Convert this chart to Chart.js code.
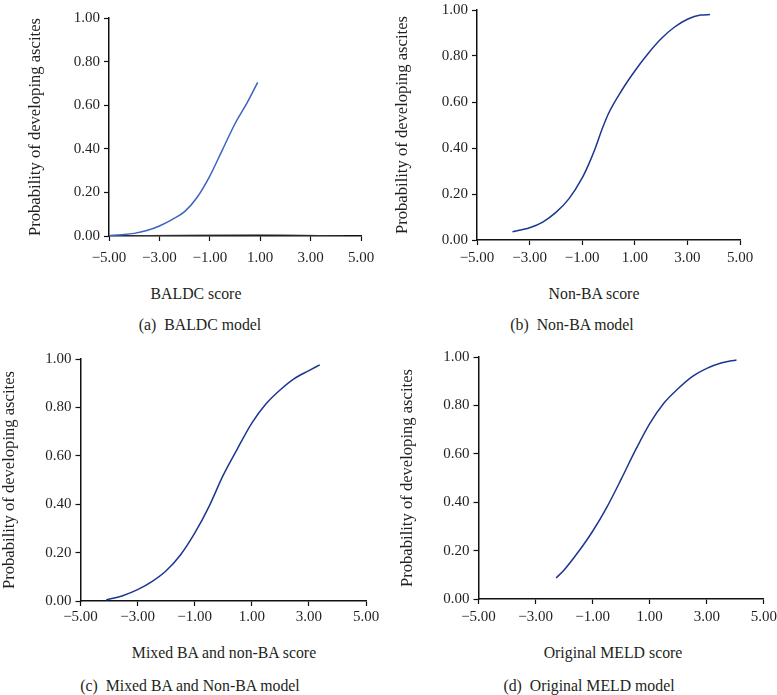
<!DOCTYPE html>
<html>
<head>
<meta charset="utf-8">
<script src="https://cdn.jsdelivr.net/npm/chart.js@4.4.1/dist/chart.umd.min.js"></script>
<style>
  html, body { margin: 0; padding: 0; background: #fff; }
  body { width: 777px; height: 695px; position: relative; overflow: hidden; font-family: "Liberation Serif", "DejaVu Serif", serif; color: #231f20; }
  .wrap { position: absolute; }
  .lbl { position: absolute; width: 400px; text-align: center; font-size: 15.8px; line-height: 18px; white-space: pre; }
</style>
</head>
<body>
<script>
// ---------- data ----------
const X_TICKS = [-5, -3, -1, 1, 3, 5];
const X_TICK_LABELS = ['\u22125.00', '\u22123.00', '\u22121.00', '1.00', '3.00', '5.00'];
const Y_TICKS = [0, 0.2, 0.4, 0.6, 0.8, 1.0];
const Y_TICK_LABELS = ['0.00', '0.20', '0.40', '0.60', '0.80', '1.00'];
const Y_TITLE = 'Probability of developing ascites';

const baldcX = [-5, -4.5, -4, -3.5, -3, -2.5, -2, -1.5, -1, -0.5, 0, 0.5, 0.9];
const baldcY = [0.002, 0.006, 0.012, 0.025, 0.046, 0.075, 0.112, 0.178, 0.275, 0.395, 0.515, 0.615, 0.705];
const baldcBaseX = [-5, -1.5, 1, 3, 4.35];
const baldcBaseY = [0.001, 0.004, 0.005, 0.003, 0.0];

const nonBaX = [-3.65, -3, -2.5, -2, -1.5, -1, -0.75, -0.5, -0.25, 0, 0.5, 1, 1.5, 2, 2.5, 3, 3.5, 3.86];
const nonBaY = [0.036, 0.053, 0.078, 0.12, 0.18, 0.27, 0.33, 0.40, 0.48, 0.55, 0.65, 0.735, 0.81, 0.875, 0.925, 0.96, 0.978, 0.98];

const mixedX = [-4.1, -3.5, -3, -2.5, -2, -1.5, -1, -0.5, 0, 0.5, 1, 1.5, 2, 2.5, 3, 3.38];
const mixedY = [0.004, 0.023, 0.047, 0.08, 0.125, 0.19, 0.28, 0.39, 0.52, 0.63, 0.735, 0.815, 0.873, 0.92, 0.952, 0.976];

const meldX = [-2.28, -2, -1.5, -1, -0.5, 0, 0.5, 1, 1.5, 2, 2.5, 3, 3.5, 4.04];
const meldY = [0.087, 0.12, 0.195, 0.28, 0.38, 0.495, 0.615, 0.725, 0.81, 0.87, 0.92, 0.953, 0.975, 0.988];

const xTitles = ['BALDC score', 'Non-BA score', 'Mixed BA and non-BA score', 'Original MELD score'];
const captions = ['(a)  BALDC model', '(b)  Non-BA model', '(c)  Mixed BA and Non-BA model', '(d)  Original MELD model'];

// ---------- layout (positions only) ----------
const panels = [
  { cl: 0,   ct: 0,   w: 388, h: 285, pl: 109,   pr: 361, pt: 18,  pb: 236, yTitleX: 36,  xDy: 22,
    xt: [196, 294], cap: [200, 325],
    series: [{ xs: baldcX, ys: baldcY, color: '#3c63c4', w: 1.5 }, { xs: baldcBaseX, ys: baldcBaseY, color: '#333333', w: 1 }] },
  { cl: 388, ct: 0,   w: 389, h: 285, pl: 477,   pr: 740, pt: 6,   pb: 240, yTitleX: 403, xDy: 18,
    xt: [594, 294], cap: [572, 325],
    series: [{ xs: nonBaX, ys: nonBaY, color: '#1c3692', w: 1.5 }] },
  { cl: 0,   ct: 330, w: 388, h: 310, pl: 80.5,  pr: 366, pt: 359, pb: 601, yTitleX: 9.5, xDy: 16,
    xt: [224, 653], cap: [190, 686],
    series: [{ xs: mixedX, ys: mixedY, color: '#1c3692', w: 1.5 }] },
  { cl: 388, ct: 330, w: 389, h: 310, pl: 478.5, pr: 764, pt: 357, pb: 599, yTitleX: 408, xDy: 18,
    xt: [613, 653], cap: [589, 686],
    series: [{ xs: meldX, ys: meldY, color: '#1c3692', w: 1.5 }] }
];

const FONT = '"Liberation Serif", "DejaVu Serif", serif';
const TXT = '#231f20';
const AX = '#111111';

panels.forEach((p, i) => {
  const wrap = document.createElement('div');
  wrap.className = 'wrap';
  wrap.style.left = p.cl + 'px';
  wrap.style.top = p.ct + 'px';
  const cv = document.createElement('canvas');
  cv.width = p.w; cv.height = p.h;
  cv.style.width = p.w + 'px'; cv.style.height = p.h + 'px';
  wrap.appendChild(cv);
  document.body.appendChild(wrap);

  const yW = p.pl - p.cl;
  const xH = p.h - (p.pb - p.ct);
  const titleSize = 16.6;
  const titleLH = titleSize * 1.2;
  const xTickSize = 15;
  const xLabelLH = 2 * (p.xDy - 5);

  new Chart(cv.getContext('2d'), {
    type: 'line',
    data: {
      datasets: p.series.map(s => ({
        data: s.xs.map((x, k) => ({ x: x, y: s.ys[k] })),
        borderColor: s.color,
        borderWidth: s.w,
        pointRadius: 0,
        fill: false,
        tension: 0.4,
        cubicInterpolationMode: 'monotone'
      }))
    },
    options: {
      responsive: false,
      animation: false,
      devicePixelRatio: 1,
      layout: { padding: { left: 0, top: p.pt - p.ct, right: p.cl + p.w - p.pr, bottom: 0 } },
      plugins: { legend: { display: false }, tooltip: { enabled: false }, title: { display: false } },
      scales: {
        x: {
          type: 'linear', position: 'bottom', min: -5, max: 5,
          afterBuildTicks: sc => { sc.ticks = X_TICKS.map(v => ({ value: v })); },
          afterFit: sc => { sc.height = xH; },
          ticks: {
            autoSkip: false, maxRotation: 0, padding: 0, color: TXT,
            font: { family: FONT, size: xTickSize, lineHeight: xLabelLH / xTickSize },
            callback: (v, idx) => X_TICK_LABELS[idx]
          },
          grid: { drawOnChartArea: false, drawTicks: true, tickLength: 5, color: AX, tickWidth: 1.2 },
          border: { display: true, color: AX, width: 1.5 },
          title: { display: false }
        },
        y: {
          type: 'linear', position: 'left', min: 0, max: 1,
          afterBuildTicks: sc => { sc.ticks = Y_TICKS.map(v => ({ value: v })); },
          afterFit: sc => { sc.width = yW; },
          ticks: {
            autoSkip: false, padding: 4, color: TXT,
            font: { family: FONT, size: 15, lineHeight: 0.8 },
            callback: (v, idx) => Y_TICK_LABELS[idx]
          },
          grid: { drawOnChartArea: false, drawTicks: true, tickLength: 5, color: AX, tickWidth: 1.2 },
          border: { display: true, color: AX, width: 1.5 },
          title: {
            display: true, text: Y_TITLE, color: TXT,
            font: { family: FONT, size: titleSize, lineHeight: 1.2 },
            padding: { top: Math.max(0, (p.yTitleX - p.cl) - titleLH / 2), bottom: 0 }
          }
        }
      }
    }
  });

  const xt = document.createElement('div');
  xt.className = 'lbl';
  xt.textContent = xTitles[i];
  xt.style.left = (p.xt[0] - 200) + 'px';
  xt.style.top = (p.xt[1] - 9) + 'px';
  document.body.appendChild(xt);

  const cap = document.createElement('div');
  cap.className = 'lbl';
  cap.textContent = captions[i];
  cap.style.left = (p.cap[0] - 200) + 'px';
  cap.style.top = (p.cap[1] - 9) + 'px';
  document.body.appendChild(cap);
});
</script>
</body>
</html>
